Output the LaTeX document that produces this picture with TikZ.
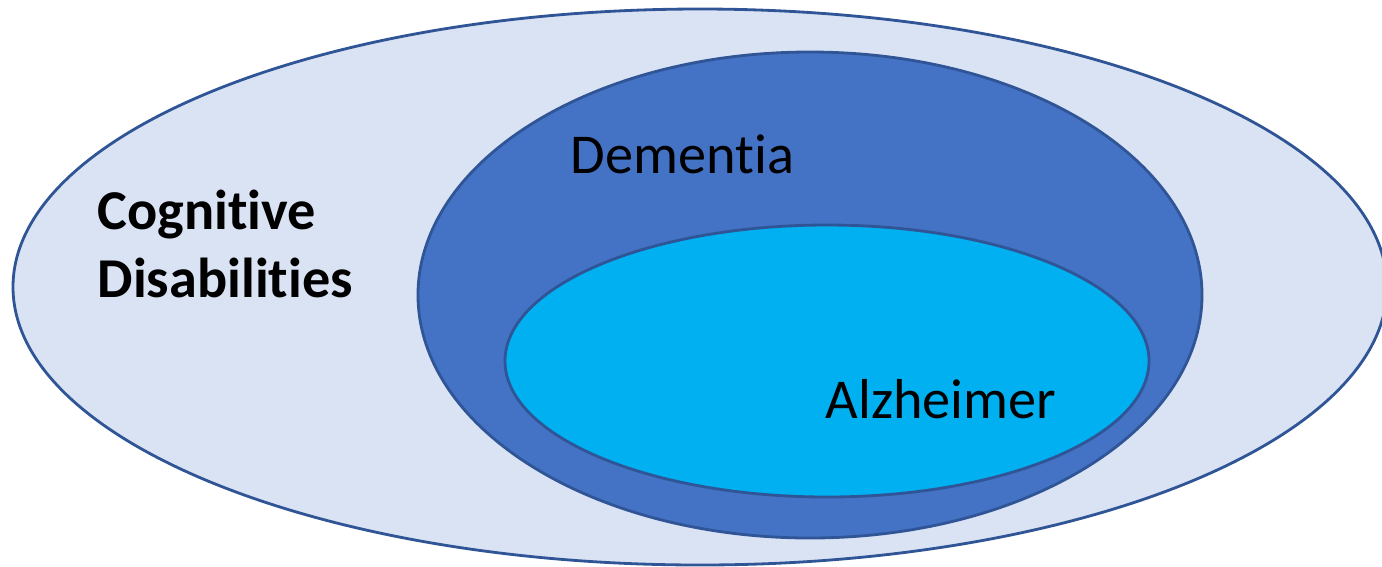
\documentclass[tikz,border=0pt]{standalone}
\usepackage{fontspec}
\setmainfont{Carlito}[Ligatures=NoCommon]
\usetikzlibrary{positioning}
\definecolor{outerfill}{HTML}{DAE3F3}
\definecolor{midfill}{HTML}{4472C4}
\definecolor{innerfill}{HTML}{00B0F0}
\definecolor{rimline}{HTML}{2F5597}

\begin{document}
\begin{tikzpicture}[x=0.01cm,y=-0.01cm,
  rim/.style={draw=rimline,line width=0.8pt},
  lbl/.style={inner sep=0pt,anchor=base west,font=\fontsize{16}{19.3}\selectfont}]
  \useasboundingbox (0,0) rectangle (1382,566);
  \draw[rim,fill=outerfill] (700,287) ellipse [x radius=687,y radius=278];
  \draw[rim,fill=midfill] (810,295) ellipse [x radius=392,y radius=243];
  \draw[rim,fill=innerfill] (827,361) ellipse [x radius=322,y radius=136];
  \node[lbl,font=\fontsize{16}{19.3}\selectfont\bfseries,align=left] (cog) at (97,297) {Cognitive\\Disabilities};
  \node[lbl] (dem) at (570,173) {Dementia};
  \node[lbl] (alz) at (825,418) {Alzheimer};
\end{tikzpicture}
\end{document}
